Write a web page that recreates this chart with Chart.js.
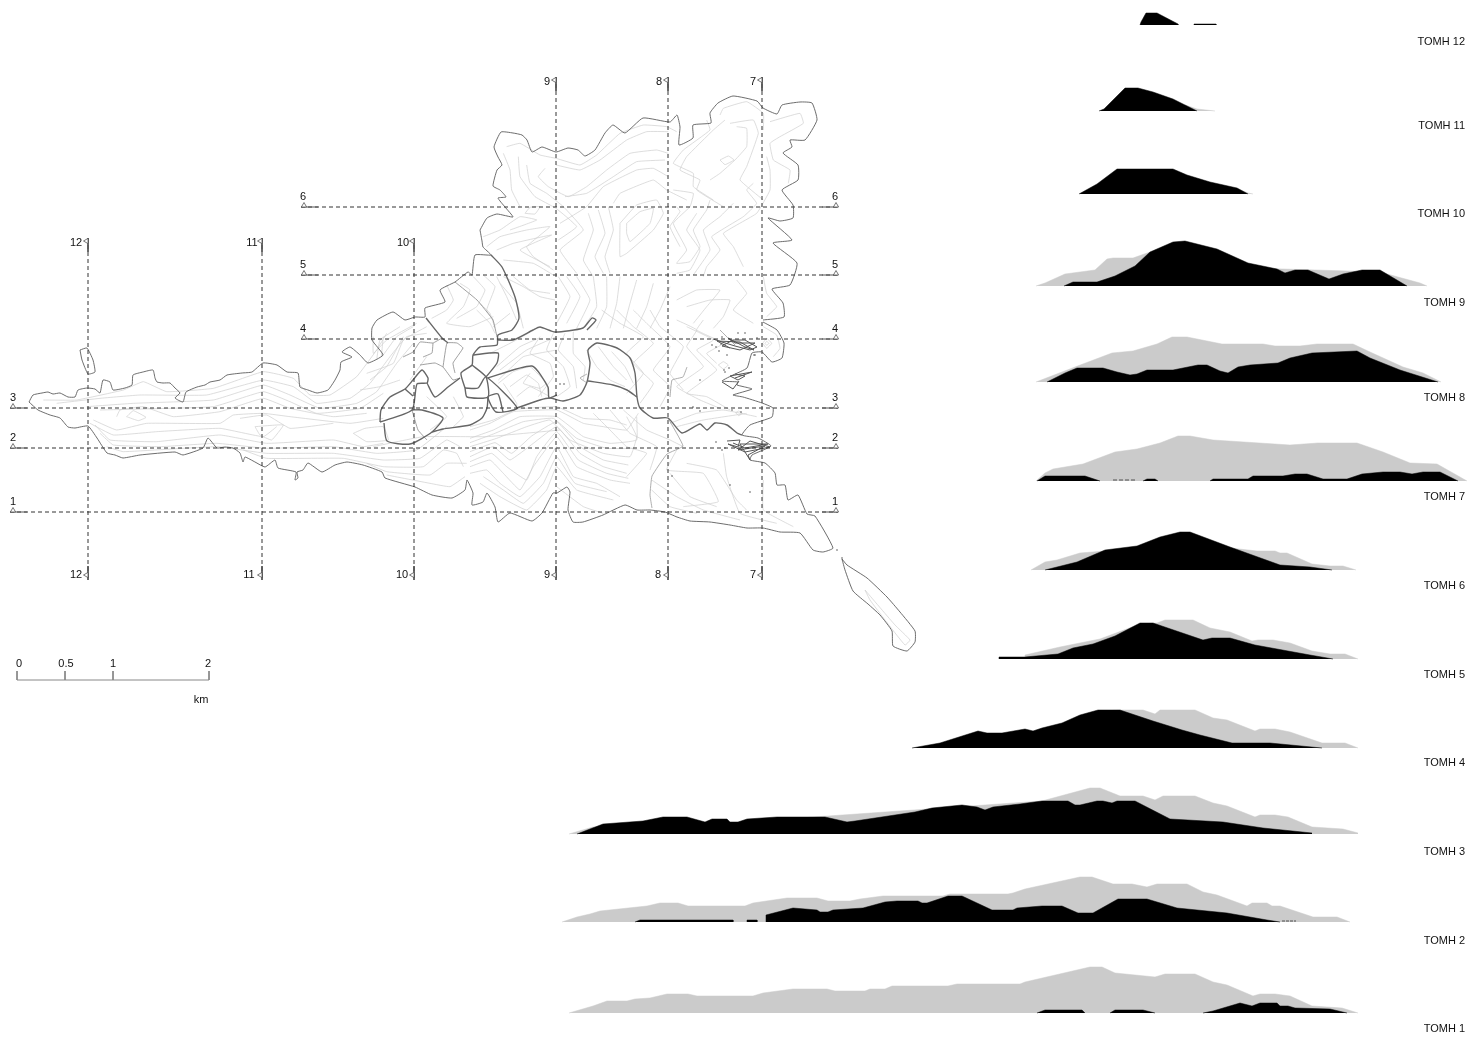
<!DOCTYPE html>
<html><head><meta charset="utf-8">
<style>html,body{margin:0;padding:0;background:#fff}canvas{display:block}</style>
<script src="https://cdn.jsdelivr.net/npm/chart.js@4"></script>
</head><body><canvas id="c" width="1483" height="1038"></canvas>
<script>
// ---------- Cross-section profiles: flat lists of x,y pairs ----------
const grey1=[569,1013,593,1006,607,1001,627,1001,635,999,650,998,667,994,688,994,697,996,753,996,763,993,793,989,827,989,835,991,865,991,870,989,885,989,892,986,948,986,957,984,1020,984,1025,982,1090,967,1102,967,1115,973,1155,977,1165,974,1195,974,1213,982,1227,985,1253,996,1260,994,1275,994,1290,996,1312,1006,1342,1008,1358,1013];
const black1a=[1037,1013,1045,1010,1082,1010,1085,1013];
const black1b=[1110,1013,1115,1010,1143,1010,1155,1013];
const black1c=[1203,1013,1213,1011,1240,1003,1252,1006,1260,1003,1277,1003,1280,1006,1288,1006,1295,1008,1330,1009,1347,1013];
const grey2=[562,922,577,917,590,914,600,911,647,906,660,903,678,903,688,906,745,906,753,903,787,898,817,898,828,901,850,901,860,899,883,896,943,896,950,894,1008,894,1013,893,1025,889,1080,877,1092,877,1113,884,1132,884,1147,887,1157,884,1187,884,1203,892,1217,895,1247,906,1252,903,1267,903,1272,906,1280,906,1313,917,1337,917,1350,922];
const black2a=[635,922,640,920,733,920,733,922];
const black2b=[747,922,747,920,757,920,757,922];
const black2c=[766,922,766,915,793,908,817,910,820,912,828,912,833,910,863,908,885,902,897,901,918,901,922,903,927,903,948,896,962,896,977,903,992,910,1013,910,1017,908,1042,906,1062,906,1078,913,1093,913,1118,899,1147,899,1177,908,1227,913,1267,920,1280,922];
const grey3=[569,834,593,827,700,825,1042,801,1090,788,1100,788,1120,796,1143,796,1155,800,1163,796,1195,796,1213,803,1227,806,1255,817,1260,815,1275,815,1288,817,1312,827,1343,829,1358,833];
const black3=[577,834,603,824,643,821,663,817,687,817,705,822,712,819,727,819,730,822,738,822,747,819,777,817,825,817,847,822,855,821,915,812,932,808,962,805,977,807,985,810,993,807,1020,804,1042,801,1068,801,1075,805,1080,805,1097,801,1103,801,1112,803,1117,801,1135,801,1170,819,1223,822,1263,828,1312,833];
const grey4=[1100,748,1100,711,1120,710,1143,710,1155,714,1160,710,1195,710,1213,718,1227,720,1255,731,1260,729,1275,729,1290,732,1322,743,1345,743,1358,748];
const black4=[912,748,940,743,978,731,987,733,1002,733,1025,729,1033,731,1042,728,1062,723,1080,715,1098,710,1120,710,1153,721,1182,730,1200,735,1232,743,1270,743,1322,748];
const grey5=[1025,658,1025,655,1060,647,1100,639,1140,624,1157,623,1165,620,1193,620,1210,628,1230,632,1252,641,1258,640,1273,640,1290,643,1312,651,1330,654,1345,654,1358,659];
const black5=[999,659,999,657,1025,657,1058,654,1073,648,1093,644,1115,636,1140,623,1153,623,1203,640,1212,638,1230,638,1255,645,1310,655,1333,659];
const grey6=[1031,570,1045,562,1057,560,1080,553,1105,551,1137,547,1160,538,1180,533,1190,533,1230,548,1257,551,1275,551,1280,553,1287,553,1312,564,1330,566,1343,566,1356,570];
const black6=[1045,570,1077,562,1105,550,1137,546,1160,537,1180,532,1190,532,1230,547,1280,565,1310,567,1332,570];
const grey7=[1036,481,1045,473,1053,469,1083,464,1115,452,1137,449,1160,443,1178,436,1190,436,1213,440,1290,445,1318,443,1357,443,1383,452,1410,463,1437,464,1467,481];
const black7a=[1037,481,1045,476,1085,476,1100,481];
const black7b=[1143,481,1147,479,1155,479,1158,481];
const black7c=[1210,481,1213,479,1248,479,1253,476,1283,476,1295,474,1307,474,1323,479,1347,479,1362,474,1383,472,1400,472,1412,474,1423,472,1440,472,1458,481];
const grey8=[1036,382,1062,372,1075,367,1112,353,1133,351,1157,344,1172,337,1187,337,1222,344,1263,344,1275,346,1300,346,1317,344,1353,344,1370,352,1403,367,1423,373,1441,382];
const black8=[1047,382,1065,373,1077,368,1103,368,1117,372,1130,375,1137,374,1147,370,1173,370,1198,365,1207,365,1220,371,1228,373,1238,367,1250,365,1278,363,1290,358,1312,353,1357,351,1370,358,1400,370,1438,382];
const grey9=[1036,286,1045,283,1065,274,1095,270,1107,259,1113,258,1133,258,1150,252,1175,250,1250,268,1380,272,1398,277,1420,283,1427,286];
const black9=[1064,286,1073,282,1097,282,1115,276,1135,266,1150,252,1173,242,1185,241,1217,249,1248,263,1277,269,1285,273,1295,270,1308,270,1329,279,1343,274,1362,270,1380,270,1407,286];
const grey10=[1236,188,1248,193,1253,194];
const black10=[1079,194,1097,184,1117,169,1173,169,1187,175,1210,182,1237,188,1248,194];
const grey11=[1185,105,1197,109,1215,111];
const black11=[1099,111,1104,109,1125,88,1138,88,1153,92,1173,99,1185,105,1197,111];
const black12=[1140,25,1141,22,1146,13,1157,13,1178,24,1178,25];
const black12b=[1194,25,1194,24,1216,24,1216,25];
const specks7=[1113,480,1137,480];
const specks2=[1282,921,1296,921];
const baselines={p1:1013,p2:922,p3:834,p4:748,p5:659,p6:570,p7:481,p8:382,p9:286,p10:194,p11:111,p12:25};
const tomhNames=["TOMH 12","TOMH 11","TOMH 10","TOMH 9","TOMH 8","TOMH 7","TOMH 6","TOMH 5","TOMH 4","TOMH 3","TOMH 2","TOMH 1"];
const tomhY=[42,126,214,303,398,497,586,675,763,852,941,1029];

// ---------- Map: coast ----------
const coastWest=[29,402,33,395,42,393,48,392,53,394,60,393,68,397,75,397,78,390,87,388,95,389,100,393,103,380,110,382,113,390,125,388,132,385,133,375,143,372,153,370,155,378,157,382,163,383,170,383,175,388,180,393,175,398,183,402,186,392,197,387,205,385,210,382,220,380,227,375,242,373,252,372,263,363,277,365,287,372,298,373,300,387,308,390,317,393,328,390,335,380,340,370,341,362,352,357,342,352,350,347,360,355,368,363,383,355,372,340,372,328,377,320,393,312,405,320,415,317,425,317,425,308,445,302,440,290,455,282,468,272,472,275,475,255,491,255,483,247,482,241,480,230];
const coastNorth=[480,230,487,218,497,214,513,217,505,207,498,198,506,197,500,190,493,186,497,170,502,165,498,157,494,147,501,132,513,133,522,135,527,140,532,152,542,147,556,152,568,148,578,150,585,156,595,150,605,133,613,125,625,133,643,118,670,122,677,115,680,127,679,145,693,138,693,125,711,123,710,113,718,103,733,96,757,101,763,108,777,114,782,105,800,102,812,103,817,120,805,140,790,140,792,147,783,153,798,165,798,180,782,190,793,205,793,218,780,221,768,218,792,240,773,243,797,263,790,285,772,289,783,303,784,317,763,320];
const coastEast=[763,322,777,330,784,343,782,358,772,362,762,352,752,353,747,368,733,375,722,381,738,382,737,385,752,389,733,395,743,397,762,403,773,408,772,417,750,425,742,435,758,438,771,446,752,455,750,460,765,463,775,473,777,485,785,485,788,500,798,495,807,514,815,516,833,548,823,552,813,550,800,533,780,532,763,528,747,528,730,525,710,522,690,521,677,517,665,512,650,510,637,510,625,505,603,515,583,522,573,522,568,510,570,492,567,487,557,493,553,493,542,513,532,521,510,513,498,522,495,507,487,493,483,502,472,505,473,493,467,480,465,490,452,498,432,495,415,487,385,478,382,472,363,465,347,462,335,465,322,472,308,463,303,470,297,472,298,478,295,480,296,472,278,468,275,460,265,467,255,462,245,457,243,462,240,453,233,448,225,447,217,448,208,438,203,448,183,455,175,452,140,455,123,458,115,455,107,453,97,438,88,426,75,428,68,427,60,418,50,415,38,410,29,402];
const islet=[80,350,87,348,93,360,95,372,88,374,82,360,80,350];
const southIsland=[842,559,845,570,853,591,868,604,880,615,892,631,893,646,907,651,915,642,915,631,900,612,887,597,867,578,847,565,842,559];
// ---------- Map: roads (dark), written as page x,y ----------
const road1=[491,255,502,267,515,297,519,318,512,330,498,335,497,345,480,347,473,355,472,365,461,373,465,388,467,397,488,397,486,377,472,365];
const road2=[473,355,498,353,497,363,486,377];
const road3=[465,388,478,388,486,377,517,408,496,412,488,397,498,394,503,412];
const road4=[488,378,532,366,548,387,549,398,557,395];
const road5=[432,432,443,429,470,425,482,418,487,408,488,397];
const road6=[517,408,540,400,550,398,563,401,580,395,587,382,590,363,588,350,597,343,617,348,630,358,635,373,637,397,640,408,653,418,668,418,682,433,700,424,707,430,715,423,727,425,737,433,742,435];
const road7=[588,381,613,385,627,390,637,397];
const road8=[497,340,513,340,533,330,540,327,555,332,583,328,592,318,596,320,587,330];
const road9=[380,422,381,410,390,397,405,389,413,380,422,370,428,378,427,383,417,384,412,410,380,422];
const road10=[384,423,387,441,410,444,432,432,443,418,422,410,412,410];
const road11=[405,389,413,396];
const road12=[427,383,435,397,448,387,460,378];
const road13=[426,318,442,338,448,343];
const thinRoad1=[403,357,413,352,420,342,433,343,442,338];
const thinRoad2=[420,365,435,363,443,367,453,380,460,378];
const thinRoad3=[423,357,432,353,433,343];
const thinRoad4=[443,367,447,343,457,343,463,348,453,363,455,373];
const thinRoad5=[455,282,477,300,493,320,497,337];
const thinRoad6=[412,410,418,430,427,440];
const thinPath1=[668,418,683,446,667,454,652,476,650,495,652,508];
const thinPath2=[687,367,683,377,672,380,670,397];
const thinPath3=[720,330,735,345];
const thinPath4=[587,374,580,378,587,383];
// ---------- Map: harbour clutter ----------
const harbourA=[713,339,722,342,735,346,750,350,757,347,745,340,733,340,722,346,740,350,755,343,735,343,728,338,745,347,754,350,740,342,717,341,730,348];
const harbourB=[735,374,745,376,738,380,730,376,752,372,735,378];
const harbourC=[727,441,740,440,738,447,728,444,745,452,770,447,750,441,738,450,765,446,748,455,750,460,740,444,768,444,745,448,733,443];
const harbourD=[722,382,733,389,739,381];
const harbourDots=[716,347,719,351,721,344,738,333,727,355,724,370,755,355,716,442,722,450,725,448,700,380,693,407,700,411,729,368,732,410,741,412,725,372,560,384,564,384,837,550,842,558,672,476,730,485,750,492,722,337,712,345,754,355,757,338,745,333];
// ---------- Map: contours (sheet units, tripled; origin below) ----------
const northEast=[
[80,170,120,160,180,195,228,205,300,225,350,195,420,130,490,105,560,110,590,125],
[70,190,90,240,95,300,120,350],[115,200,120,260,165,320,228,355,290,410,235,450],
[140,225,150,280,200,310,250,350,310,420,240,480,290,550],[195,235,175,260,205,290,265,320,320,290,380,240,450,190,530,180,565,190],
[228,225,300,240,360,210,440,150,500,125,565,125],[255,320,320,310,400,260,470,215,555,210],[240,400,320,350,370,290,470,240,520,235,565,260],
[325,370,340,420,310,510,340,560],[355,360,375,430,345,500,370,550],[385,350,400,420,375,500,390,550],[400,340,420,310,520,270,560,300,620,330],
[440,400,480,365,520,355,510,400,450,455,440,430,440,400],[420,400,470,345,530,330,550,370,520,420,440,490,420,500,420,400],
[720,210,745,198,762,210,735,224,720,210],[770,110,800,115,800,170,765,210,720,250,690,270],[750,100,820,90,835,130,800,230,780,270,850,330],
[720,75,730,55,800,35,850,70,850,120],[870,95,960,70,970,100,900,140,870,160,880,210,930,240,925,280],[680,90,690,120,610,180,580,220,640,250,640,290,700,330],
[735,90,700,120,620,200,600,240,660,270,650,300,730,350],[580,300,640,310,630,350,580,400,620,480,590,520,630,515,660,470,640,420,680,360,690,330],
[590,350,600,365,570,410,600,470],[860,200,870,240,870,300,830,370,730,430,760,470,790,530],[820,280,800,300,830,340,790,380,695,440,720,480,680,530,670,560],
[650,370,620,420,660,480,630,540,590,550],[760,340,720,380,670,420,690,480,640,555],
[235,560,270,620,230,700],[260,560,300,620,260,700],[290,560,330,630,290,715],[340,560,350,650,310,715],[380,560,380,650,350,715],[420,560,410,640,390,715],[470,570,450,640,430,715],[520,580,500,650,470,715],[570,590,540,660,510,715],
[590,630,650,600,720,600,680,650,640,700],[620,650,690,630,750,630,730,680,700,715],[770,570,800,610,760,660,820,700],[850,560,860,610,890,650,860,680],
[10,440,60,420,120,380,170,390,90,420],[20,470,60,440,140,420,210,410,140,470,160,500,220,540],[50,480,100,460,215,435,120,480,210,530],[70,510,160,520,220,555],[70,560,130,590,180,620,225,630],[100,560,150,600,210,610],[60,580,110,640,130,715],[0,640,30,670,45,715],
[135,370,150,352,180,350,165,372,135,370]
];
const centerEast=[
[140,260,180,230,240,260],[85,220,130,185,180,170,230,220,235,250],[120,230,170,195,205,220,215,260],[210,80,180,130,240,160,250,200,205,260],[250,70,230,120,280,170,300,230,260,260],[285,70,265,120,310,170,320,235],[310,65,310,130,345,170,340,210],
[20,0,60,40,75,70],[70,50,120,10],[60,130,120,100,175,70],[80,170,150,110,205,85],
[0,360,60,340,130,305,260,300,340,340,400,350,470,360,505,310],[0,385,70,360,150,320,260,320,340,380,420,400,500,390,500,320],[0,410,80,385,170,350,240,330,300,390,400,430,480,440,500,380,470,320],
[0,440,70,410,120,450,190,400,260,350,330,430,400,470,470,490],[0,470,60,450,100,490,150,540,190,470,260,380,320,470,420,510,480,520],[0,490,50,480,90,520,150,560,210,500,260,410,310,500,380,520,450,560],
[0,350,70,330,140,298,260,290,340,325,420,330,470,345],[0,398,70,372,160,335,250,325,320,385,410,415,490,415],[0,425,75,398,125,430,185,378,260,335,330,410,400,450,475,465],[0,455,65,430,110,470,170,510,200,440,260,365,325,450,410,490,475,505],[40,500,100,540,160,580,220,520,260,440,315,520,410,545],
[30,520,90,560,170,600,230,540,260,470,320,540,430,570],[260,530,340,590,400,610],[370,310,420,360,470,410,530,430,470,500],[420,300,480,370,560,410,540,480],[460,300,530,360,600,390,640,410],
[620,420,590,480,700,490,745,575,640,590],[650,460,740,480,800,570,830,600],[600,490,660,560,740,590],[545,510,620,560,700,600,810,630],[545,540,600,590,680,610],[760,430,770,500,810,610,920,640],[880,510,880,600,970,650],
[395,0,450,40,520,80,470,130,520,190,470,250],[440,0,490,50,550,100,490,160,550,220,510,280],[490,0,530,40,600,110,550,180,600,230,570,290],[540,0,570,50,640,110,600,190,640,240],
[620,30,680,60,650,110,700,170,620,230,690,270,750,295],[650,50,730,90,680,120,740,180,650,250,710,260,780,300],[700,30,680,60,760,100,710,130,740,160],
[745,165,760,155,775,165,760,177,745,165],[797,308,806,303,817,310,806,317,797,308],[878,100,890,85,905,100,890,115,878,100],[885,100,890,94,897,100,890,106,885,100],[880,50,920,75,930,115,910,140],
[600,340,680,310,760,300,860,320],[620,350,700,330,830,310],[350,120,380,170,420,210,465,230],[385,110,430,170,470,210],[425,125,465,170,490,220]
];
const westSpine=[
[130,990,230,990,370,960,430,935,500,965,640,955,790,905,880,925,930,975,990,975,1070,920,1130,840,1160,790],
[170,1000,300,985,420,975,620,975,790,930,880,950,950,1000,1050,985,1110,940,1170,860,1220,800,1280,790],
[260,1010,400,1000,640,990,790,945,870,975,960,1015,1070,1000,1130,965,1190,880,1240,820],
[300,1020,640,1010,790,965,870,995,950,1030,1080,1015,1150,970],[350,1040,360,1020,430,1010,520,1040,660,1025,790,985,870,1015,1000,1040,1100,1030],
[280,1050,350,1080,440,1060,660,1060,700,1035,790,1030,870,1040,1050,1060,1150,1045],[270,1060,340,1095,470,1085,660,1075,790,1100,830,1070],
[380,1040,400,1022,438,1042,415,1052,380,1040],[765,1070,850,1065,815,1110,780,1095,765,1070],[720,1045,800,1035,870,1075,1000,1060],[1060,1090,1095,1075,1150,1070,1165,1110,1100,1115,1060,1090],
[285,1065,330,1110,470,1115,660,1095,800,1120,1000,1110,1090,1130,1150,1120],[300,1090,340,1125,480,1130,650,1120,800,1135,1000,1130,1130,1150,1250,1140,1340,1070],
[320,1130,370,1145,650,1130,800,1150,1000,1150,1150,1170,1260,1165,1340,1110,1380,1130],[730,1140,800,1165,1030,1165,1150,1190,1270,1190,1330,1140,1370,1150,1390,1190],
[1100,1180,1160,1205,1290,1215,1340,1180,1400,1180],[1160,1215,1290,1240,1350,1250,1395,1220],[1120,800,1120,850,1160,810,1250,760],[1150,800,1145,860,1190,800,1240,770]
];
const westHead=[
[260,135,280,180,260,210,215,235],[300,130,330,150,310,200,260,250,330,260,400,230],[340,110,375,150,350,200,290,235],[370,105,405,140,380,210,400,240],[410,110,440,170,470,240],
[590,290,500,330,420,390],[590,330,490,350,415,420],[510,400,490,430,540,445,560,430],[200,350,150,420],[130,290,80,380,30,420],[200,260,130,300,100,370,20,400],
[120,260,60,300,50,360],[430,430,470,490,470,510],[40,620,190,590,380,590,600,570],[280,470,310,530,280,560],[200,470,260,530,210,570],[0,450,60,440,120,420]
];
const southIslandContour=[865,590,895,625,910,640,905,645,885,620,870,600,865,590];
const sheetOrigins={northEast:[480,90],centerEast:[470,310],westSpine:[0,70],westHead:[360,240]};
const darkRoads=[road1,road2,road3,road4,road5,road6,road7,road8,road9,road10,road11,road12,road13];
const thinRoads=[thinRoad1,thinRoad2,thinRoad3,thinRoad4,thinRoad5,thinRoad6];
const thinPaths=[thinPath1,thinPath2,thinPath3,thinPath4];
const harbours=[harbourA,harbourB,harbourC,harbourD];
// ---------- Section lines ----------
const hNames=["1","2","3","4","5","6"];
const hY=[512,448,408,339,275,207];
const hStart=[10,10,10,301,301,301];
const hEnd=838;
const hLabelX=[13,13,13,303,303,303];
const vNames=["12","11","10","9","8","7"];
const vX=[88,262,414,556,668,762];
const vTop=[238,238,238,77,77,77];
const vBottom=580;
const vLabelX=[76,252,403,547,659,753];
const vLabelBottomX=[76,249,402,547,658,753];
// ---------- Scale bar ----------
const scaleTicks=[17,65,113,209];
const scaleNames=["0","0.5","1","2"];
const scaleLabelX=[19,66,113,208];
const scaleY=680, scaleTop=671;

const toPts=a=>{const o=[];for(let i=0;i<a.length;i+=2)o.push({x:a[i],y:a[i+1]});return o;};
const fromSheet=(a,o)=>a.map((v,i)=>v/3+o[i%2]);
const ds=[];
let n=1000;
function line(a,color,w,extra){ds.push(Object.assign({data:toPts(a),borderColor:color,borderWidth:w,pointRadius:0,showLine:true,tension:0,fill:false,order:n--},extra||{}));}
function area(a,color,base){ds.push({data:toPts(a),borderColor:color,backgroundColor:color,borderWidth:0.5,pointRadius:0,showLine:true,tension:0,fill:{value:base},order:n--});}
const cStyle={tension:0.1};
northEast.forEach(c=>line(fromSheet(c,sheetOrigins.northEast),'#cfcfcf',0.7,cStyle));
centerEast.forEach(c=>line(fromSheet(c,sheetOrigins.centerEast),'#cfcfcf',0.7,cStyle));
westSpine.forEach(c=>line(fromSheet(c,sheetOrigins.westSpine),'#cfcfcf',0.7,cStyle));
westHead.forEach(c=>line(fromSheet(c,sheetOrigins.westHead),'#cfcfcf',0.7,cStyle));
line(southIslandContour,'#cfcfcf',0.7,cStyle);
thinPaths.forEach(c=>line(c,'#999',0.8,cStyle));
thinRoads.forEach(c=>line(c,'#888',0.8,cStyle));
[coastWest,coastNorth,coastEast,islet,southIsland].forEach(c=>line(c,'#5c5c5c',0.9,{tension:0.15}));
darkRoads.forEach(c=>line(c,'#666',1.4,{tension:0.2}));
harbours.forEach(c=>line(c,'#555',1));
ds.push({data:toPts(harbourDots),pointRadius:0.8,backgroundColor:'#555',borderWidth:0,showLine:false,order:n--});
// section lines
hY.forEach((y,i)=>{
 line([hStart[i],y,hEnd,y],'#333',1,{borderDash:[4,3]});
 line([hStart[i],y,hStart[i]+17,y],'#555',1);
 line([hEnd-16,y,hEnd,y],'#555',1);
 ds.push({data:[{x:hStart[i]+3,y:y-1.5},{x:hEnd-2,y:y-1.5}],pointStyle:'triangle',pointRadius:3,backgroundColor:'#fff',borderColor:'#555',borderWidth:0.8,showLine:false,order:n--});
});
vX.forEach((x,i)=>{
 line([x,vTop[i],x,vBottom],'#333',1,{borderDash:[4,3]});
 line([x,vTop[i],x,vTop[i]+14],'#555',1);
 line([x,vBottom-14,x,vBottom],'#555',1);
 ds.push({data:[{x:x-1.5,y:vTop[i]+3},{x:x-1.5,y:vBottom-5}],pointStyle:'triangle',rotation:-90,pointRadius:3,backgroundColor:'#fff',borderColor:'#555',borderWidth:0.8,showLine:false,order:n--});
});
// scale bar
line([scaleTicks[0],scaleY,scaleTicks[3],scaleY],'#888',1);
scaleTicks.forEach(x=>line([x,scaleTop,x,scaleY],'#888',1));
// profiles
[[grey1,[black1a,black1b,black1c],baselines.p1],[grey2,[black2a,black2b,black2c],baselines.p2],[grey3,[black3],baselines.p3],[grey4,[black4],baselines.p4],[grey5,[black5],baselines.p5],[grey6,[black6],baselines.p6],[grey7,[black7a,black7b,black7c],baselines.p7],[grey8,[black8],baselines.p8],[grey9,[black9],baselines.p9],[grey10,[black10],baselines.p10],[grey11,[black11],baselines.p11],[null,[black12,black12b],baselines.p12]].forEach(r=>{
 if(r[0])area(r[0],'#cbcbcb',r[2]);
 r[1].forEach(b=>area(b,'#000',r[2]));
});
line(specks7,'#444',0.9,{borderDash:[4,2]});
line(specks2,'#444',0.9,{borderDash:[3,1]});

const textPlugin={id:'texts',afterDatasetsDraw(ch){
 const g=ch.ctx,X=ch.scales.x,Y=ch.scales.y;
 const put=(s,x,y,al)=>{g.textAlign=al||'center';g.fillText(s,X.getPixelForValue(x),Y.getPixelForValue(y));};
 g.save();g.font='11px "Liberation Sans"';g.fillStyle='#111';g.textBaseline='middle';
 tomhNames.forEach((s,i)=>put(s,1465,tomhY[i],'right'));
 hNames.forEach((s,i)=>{put(s,hLabelX[i],hY[i]-10.5);put(s,835,hY[i]-10.5);});
 vNames.forEach((s,i)=>{put(s,vLabelX[i],vTop[i]+5);put(s,vLabelBottomX[i],574.5);});
 scaleNames.forEach((s,i)=>put(s,scaleLabelX[i],664));
 put("km",201,700);
 g.restore();
}};
new Chart(document.getElementById('c'),{type:'scatter',data:{datasets:ds},plugins:[textPlugin],
 options:{responsive:false,animation:false,devicePixelRatio:1,layout:{padding:0,autoPadding:false},clip:false,
  plugins:{legend:{display:false},tooltip:{enabled:false},title:{display:false}},
  events:[],
  scales:{x:{type:'linear',display:false,min:0,max:1483},y:{type:'linear',display:false,min:0,max:1038,reverse:true}}}});
</script></body></html>
